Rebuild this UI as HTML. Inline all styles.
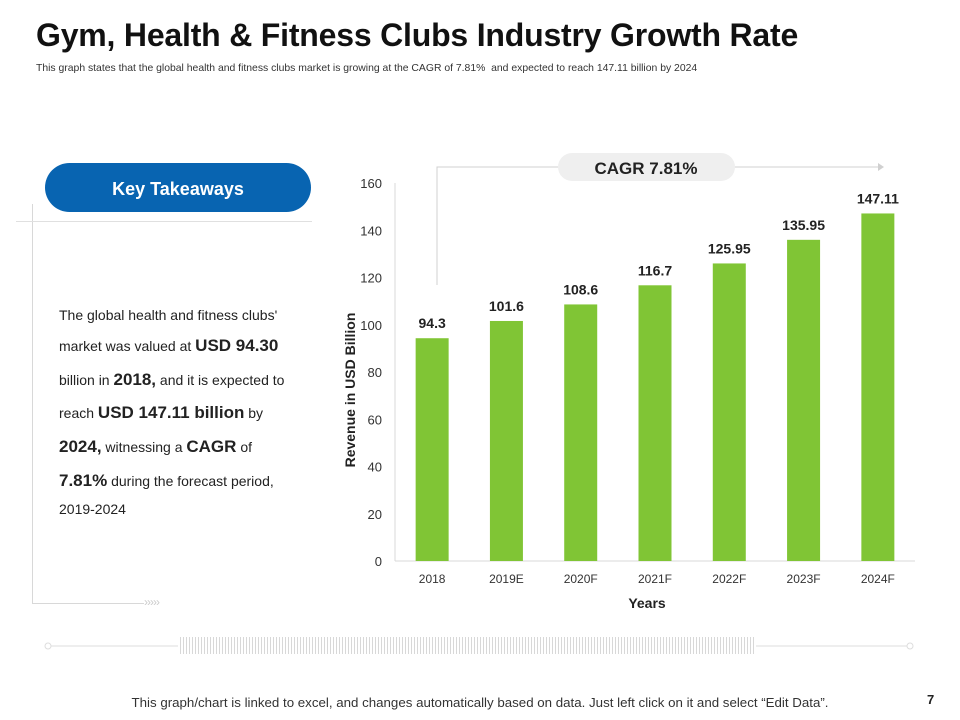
<!DOCTYPE html>
<html><head><meta charset="utf-8"><style>
body{margin:0;width:960px;height:720px;background:#fff;font-family:"Liberation Sans",Arial,sans-serif;overflow:hidden;position:relative}
.abs{position:absolute}
.ln{position:absolute;left:59px;white-space:nowrap;font-size:14px;color:#222}
.ln b{font-size:17px}
</style></head><body>
<div class="abs" style="left:36px;top:17px;font-size:32px;font-weight:bold;color:#111;letter-spacing:-0.2px">Gym, Health &amp; Fitness Clubs Industry Growth Rate</div>
<div class="abs" style="left:36px;top:63px;font-size:10.4px;color:#333;white-space:nowrap">This graph states that the global health and fitness clubs market is growing at the CAGR of 7.81%&nbsp; and expected to reach 147.11 billion by 2024</div>

<div class="abs" style="left:32px;top:204px;width:1px;height:400px;background:#d8d8d8"></div>
<div class="abs" style="left:32px;top:603px;width:112px;height:1px;background:#d8d8d8"></div>
<div class="abs" style="left:144px;top:595px;font-size:12px;color:#ccc;letter-spacing:-1px">›››››</div>
<div class="abs" style="left:16px;top:221px;width:296px;height:1px;background:#e0e0e0"></div>
<div class="abs" style="left:45px;top:163px;width:266px;height:49px;border-radius:25px;background:#0864b1;color:#fff;font-size:18px;font-weight:bold;line-height:52px;text-align:center">Key Takeaways</div>
<div>
<div class="ln" style="top:307px">The global health and fitness clubs'</div>
<div class="ln" style="top:336px">market was valued at <b>USD 94.30</b></div>
<div class="ln" style="top:370px">billion in <b>2018,</b> and it is expected to</div>
<div class="ln" style="top:403px">reach <b>USD 147.11 billion</b> by</div>
<div class="ln" style="top:437px"><b>2024,</b> witnessing a <b>CAGR</b> of</div>
<div class="ln" style="top:471px"><b>7.81%</b> during the forecast period,</div>
<div class="ln" style="top:501px">2019-2024</div>
</div>

<svg class="abs" style="left:0;top:0" width="960" height="720">
<defs><pattern id="hatch" width="3" height="17" patternUnits="userSpaceOnUse"><rect width="1" height="17" fill="#d8d8d8"/></pattern></defs>
<g id="axes"></g><g id="bars"></g>
<path d="M437 285 V167 H878" stroke="#d0d0d0" fill="none"/>
<path d="M878 163 L884 167 L878 171 Z" fill="#d0d0d0"/>
<rect x="558" y="153" width="177" height="28" rx="14" fill="#efefef"/>
<text x="646" y="174" text-anchor="middle" font-size="17" font-weight="bold" fill="#222">CAGR 7.81%</text>
<text transform="translate(355,390) rotate(-90)" text-anchor="middle" font-size="14" font-weight="bold" fill="#222">Revenue in USD Billion</text>
<text x="647" y="608" text-anchor="middle" font-size="14" font-weight="bold" fill="#222">Years</text>
<line x1="48" y1="646" x2="178" y2="646" stroke="#ddd"/>
<line x1="756" y1="646" x2="908" y2="646" stroke="#ddd"/>
<circle cx="48" cy="646" r="3" fill="#fff" stroke="#ddd"/>
<circle cx="910" cy="646" r="3" fill="#fff" stroke="#ddd"/>
<rect x="178" y="637" width="578" height="17" fill="url(#hatch)"/>
</svg>

<div class="abs" style="left:0;width:960px;top:695px;text-align:center;font-size:13.3px;color:#333;white-space:nowrap">This graph/chart is linked to excel, and changes automatically based on data. Just left click on it and select “Edit Data”.</div>
<div class="abs" style="left:927px;top:692px;font-size:13px;font-weight:bold;color:#222">7</div>

<script>
const categories=["2018","2019E","2020F","2021F","2022F","2023F","2024F"];
const values=[94.3,101.6,108.6,116.7,125.95,135.95,147.11];
const valueLabels=["94.3","101.6","108.6","116.7","125.95","135.95","147.11"];
const yTicks=[0,20,40,60,80,100,120,140,160];
const NS="http://www.w3.org/2000/svg";
const x0=395,x1=915,y0=561,y1=183,yMax=160;
const band=(x1-x0)/categories.length;
function yScale(v){return y0-(v/yMax)*(y0-y1);}
function xCenter(i){return x0+band*(i+0.5);}
function mk(tag,attrs,parent){const e=document.createElementNS(NS,tag);for(const k in attrs)e.setAttribute(k,attrs[k]);parent.appendChild(e);return e;}
const ax=document.getElementById('axes'),bg=document.getElementById('bars');
const yl=mk('line',{x1:x0,y1:y1,x2:x0,y2:y0,stroke:'#d9d9d9'},ax);


const xl=mk('line',{x1:x0,y1:y0,x2:x1,y2:y0,stroke:'#d9d9d9'},ax);


yTicks.forEach(t=>{const e=mk('text',{x:382,y:yScale(t)+5,'text-anchor':'end','font-size':13,fill:'#333'},ax);e.textContent=t;

});
categories.forEach((c,i)=>{
const cx=xCenter(i),w=33;
const r=mk('rect',{x:cx-w/2,y:yScale(values[i]),width:w,height:y0-yScale(values[i]),fill:'#80c535'},bg);


const l=mk('text',{x:cx,y:yScale(values[i])-10,'text-anchor':'middle','font-size':14,'font-weight':'bold',fill:'#222'},bg);l.textContent=valueLabels[i];


const t=mk('text',{x:cx,y:583,'text-anchor':'middle','font-size':12,fill:'#333'},bg);t.textContent=c;


});
</script>
</body></html>
